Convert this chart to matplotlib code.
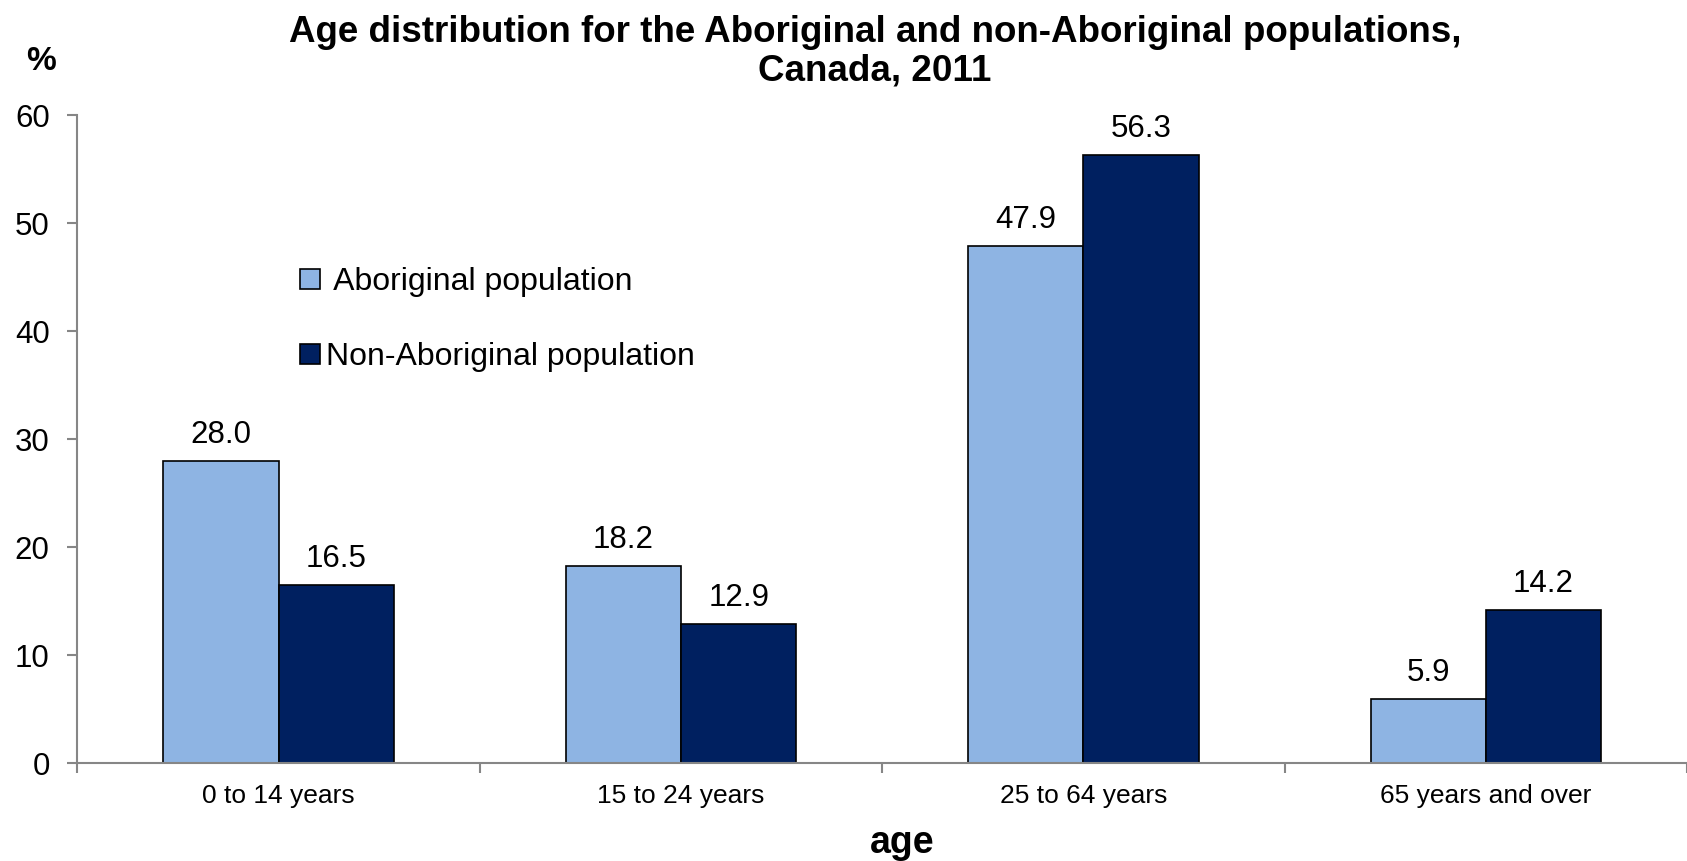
import matplotlib
matplotlib.use("Agg")
import matplotlib.pyplot as plt
import numpy as np
from matplotlib.patches import Patch

categories = ["0 to 14 years", "15 to 24 years", "25 to 64 years", "65 years and over"]
aboriginal = [28.0, 18.2, 47.9, 5.9]
non_aboriginal = [16.5, 12.9, 56.3, 14.2]
series_names = [" Aboriginal population", "Non-Aboriginal population"]
yticks = [0, 10, 20, 30, 40, 50, 60]

plt.rcParams['font.family'] = ['Liberation Sans', 'DejaVu Sans']

fig = plt.figure(figsize=(16.87, 8.61), dpi=100)
ax = fig.add_axes([0.0459, 0.1138, 1 - 0.0459, 0.8664 - 0.1138])

light = "#8EB4E3"
dark = "#002060"
x = np.arange(len(categories))
w = 0.2865
b1 = ax.bar(x - w / 2, aboriginal, w, color=light, edgecolor="black", linewidth=1.2, label=series_names[0])
b2 = ax.bar(x + w / 2, non_aboriginal, w, color=dark, edgecolor="black", linewidth=1.2, label=series_names[1])
ax.bar_label(b1, labels=[f"{v:.1f}" for v in aboriginal], padding=8, fontsize=22.5)
ax.bar_label(b2, labels=[f"{v:.1f}" for v in non_aboriginal], padding=8, fontsize=22.5)

ax.set_xlim(-0.5, 3.464)
ax.set_ylim(0, 60)
ax.set_yticks(yticks)
ax.set_yticklabels([str(t) for t in yticks], fontsize=22.5)
ax.set_xticks(x)
ax.set_xticklabels(categories, fontsize=19)
ax.set_xticks(np.arange(-0.5, 4.0, 1.0), minor=True)
ax.tick_params(axis="x", which="major", length=0, pad=15)
ax.tick_params(axis="x", which="minor", length=7, color="#868686", width=1.5, direction="out")
ax.tick_params(axis="y", length=7, color="#868686", width=1.5, direction="out", pad=13)

for s in ["top", "right"]:
    ax.spines[s].set_visible(False)
for s in ["left", "bottom"]:
    ax.spines[s].set_color("#868686")
    ax.spines[s].set_linewidth(1.5)

fig.text(875 / 1687, 1 - 33 / 861, "Age distribution for the Aboriginal and non-Aboriginal populations,",
         ha="center", va="center", fontsize=26.5, fontweight="bold")
fig.text(875 / 1687, 1 - 71 / 861, "Canada, 2011", ha="center", va="center", fontsize=26.5, fontweight="bold")
fig.text(41 / 1687, 1 - 61 / 861, "%", ha="center", va="center", fontsize=24, fontweight="bold")
fig.text(902 / 1687, 1 - 843 / 861, "age", ha="center", va="center", fontsize=27, fontweight="bold")

handles = [Patch(facecolor=light, edgecolor="black", linewidth=1.2),
           Patch(facecolor=dark, edgecolor="black", linewidth=1.2)]
ax.legend(handles, series_names, loc="upper left", bbox_to_anchor=(0.1306, 0.785), frameon=False,
          fontsize=23, handlelength=0.6, handleheight=0.6, handletextpad=0.2, labelspacing=1.41,
          borderaxespad=0)

fig.savefig("out.png", dpi=100)
